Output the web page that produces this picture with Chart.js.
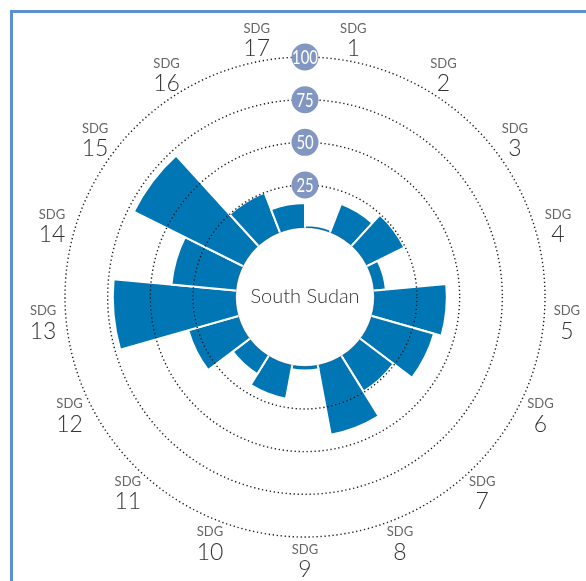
<!DOCTYPE html>
<html>
<head>
<meta charset="utf-8">
<script src="https://cdn.jsdelivr.net/npm/chart.js@4.4.1/dist/chart.umd.min.js"></script>
<style>
  html, body { margin: 0; padding: 0; background: #fff; width: 586px; height: 581px; overflow: hidden; }
  #frame { position: absolute; left: 10px; top: 10px; width: 700px; height: 700px;
           border-left: 3px solid #5d90d2; border-top: 3px solid #5d90d2; box-sizing: border-box; }
  #wrap { position: absolute; left: 0; top: 0; width: 586px; height: 581px; }
</style>
</head>
<body>
<div id="frame"></div>
<div id="wrap"><canvas id="c" width="586" height="581"></canvas></div>
<script>
// SDG goal numbers, clockwise from the top
const categories = ['1','2','3','4','5','6','7','8','9','10','11','12','13','14','15','16','17'];
// Goal scores for South Sudan (0-100)
const scores = [1.5, 18, 24.5, 7, 42.5, 38, 24.5, 41.5, 2.5, 20, 12.5, 30.5, 72, 38, 71.5, 25, 14.5];
// Reference rings and their badge labels
const ringValues = [25, 50, 75, 100];
const countryName = 'South Sudan';

const BAR = '#0076b4';
const BADGE = '#8196c0';
const FONT = 'Lato, "Open Sans", sans-serif';

const overlay = {
  id: 'overlay',
  afterDatasetsDraw(chart) {
    const s = chart.scales.r;
    const ctx = chart.ctx;
    const r0 = s.getDistanceFromCenterForValue(0);
    ctx.save();
    ctx.beginPath();
    ctx.arc(s.xCenter, s.yCenter, r0, 0, Math.PI * 2);
    ctx.fillStyle = '#fff';
    ctx.fill();
    ctx.strokeStyle = 'rgba(0,0,0,0.22)';
    ctx.lineWidth = 1;
    ctx.stroke();
    ctx.fillStyle = '#333';
    ctx.font = '300 20px ' + FONT;
    ctx.textAlign = 'center';
    ctx.textBaseline = 'middle';
    ctx.fillText(countryName, s.xCenter, s.yCenter);
    ctx.restore();
  },
  afterDraw(chart) {
    const s = chart.scales.r;
    const ctx = chart.ctx;
    ctx.save();
    ctx.textAlign = 'center';
    ctx.textBaseline = 'middle';
    // ring badges along the top, with condensed white numbers
    ringValues.forEach(v => {
      const y = s.yCenter - s.getDistanceFromCenterForValue(v);
      ctx.beginPath();
      ctx.arc(s.xCenter, y, 13.5, 0, Math.PI * 2);
      ctx.fillStyle = BADGE;
      ctx.fill();
      ctx.save();
      ctx.translate(s.xCenter, y + 1);
      ctx.scale(0.78, 1);
      ctx.fillStyle = '#fff';
      ctx.font = '400 19px ' + FONT;
      ctx.fillText(String(v), 0, 0);
      ctx.restore();
    });
    // goal labels around the outside, centred on each sector
    categories.forEach((c, i) => {
      const p = s.getPointPosition(i + 0.5, 263);
      ctx.fillStyle = '#666';
      ctx.font = '400 13px ' + FONT;
      ctx.fillText('SDG', p.x, p.y - 10);
      ctx.fillStyle = '#333';
      ctx.font = '300 23px ' + FONT;
      ctx.fillText(c, p.x, p.y + 10);
    });
    ctx.restore();
  }
};

new Chart(document.getElementById('c'), {
  type: 'polarArea',
  data: {
    labels: categories,
    datasets: [{
      data: scores,
      backgroundColor: BAR,
      borderColor: '#fff',
      borderWidth: 2
    }]
  },
  options: {
    responsive: false,
    animation: false,
    layout: { padding: { left: 65, right: 41, top: 57, bottom: 44 } },
    plugins: { legend: { display: false }, tooltip: { enabled: false } },
    scales: {
      r: {
        min: -40.6,
        max: 100,
        ticks: { display: false, stepSize: 25 },
        angleLines: { display: false },
        pointLabels: { display: false },
        grid: {
          z: 1,
          circular: true,
          lineWidth: 1.4,
          color: (ctx) => (ctx.tick && ringValues.includes(ctx.tick.value)) ? '#1a1a1a' : 'rgba(0,0,0,0)'
        },
        border: { dash: [1.3, 2.7] }
      }
    }
  },
  plugins: [overlay]
});
</script>
</body>
</html>
